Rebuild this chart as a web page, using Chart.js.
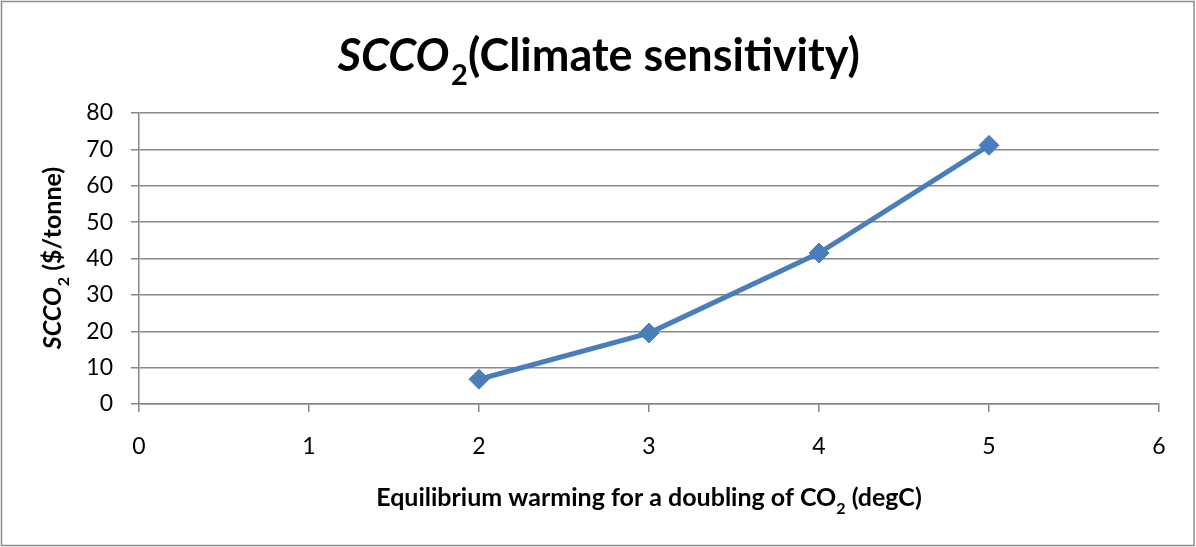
<!DOCTYPE html>
<html>
<head>
<meta charset="utf-8">
<title>SCCO2 (Climate sensitivity)</title>
<script src="https://cdn.jsdelivr.net/npm/chart.js@4/dist/chart.umd.min.js"></script>
<style>
  html, body { margin: 0; padding: 0; background: #fff; }
  #wrap { width: 1196px; height: 547px; }
</style>
</head>
<body>
<div id="wrap"><canvas id="myChart" width="1196" height="547"></canvas></div>
<script>
// data
const warming = [2, 3, 4, 5];
const scco2 = [6.8, 19.5, 41.5, 71.1];
const xTicks = [0, 1, 2, 3, 4, 5, 6];
const yTicks = [0, 10, 20, 30, 40, 50, 60, 70, 80];

// texts (parts: text, italic, subscript)
const titleParts = [['SCCO', true, false], ['2', false, true], ['(Climate sensitivity)', false, false]];
const xTitleParts = [['Equilibrium warming for a doubling of CO', false, false], ['2', false, true], [' (degC)', false, false]];
const yTitleParts = [['SCCO', true, false], ['2', false, true], [' ($/tonne)', false, false]];

const FONT = 'Lato, "Open Sans", sans-serif';
const GRID = '#878787';
const BLUE = '#4a7ebb';

function fontOf(size, italic, sub) {
  return (italic ? 'italic ' : '') + 'bold ' + Math.round(sub ? size * 0.65 : size) + 'px ' + FONT;
}

// draws bold text with italic / subscript pieces, centred at (cx, baseline)
function drawRich(ctx, parts, cx, base, size) {
  let total = 0;
  parts.forEach(p => {
    ctx.font = fontOf(size, p[1], p[2]);
    total += ctx.measureText(p[0]).width;
  });
  let x = cx - total / 2;
  ctx.textAlign = 'left';
  ctx.textBaseline = 'alphabetic';
  ctx.fillStyle = '#000';
  parts.forEach(p => {
    ctx.font = fontOf(size, p[1], p[2]);
    ctx.fillText(p[0], x, base + (p[2] ? size * 0.3 : 0));
    x += ctx.measureText(p[0]).width + (p[1] ? size * 0.04 : 0);
  });
}

const titles = {
  id: 'richTitles',
  afterDraw(chart) {
    const ctx = chart.ctx;
    const area = chart.chartArea;
    ctx.save();
    // chart title
    drawRich(ctx, titleParts, 598, 71, 45);
    // x axis title
    drawRich(ctx, xTitleParts, (area.left + area.right) / 2, 506, 25);
    // y axis title (rotated)
    ctx.translate(61, (area.top + area.bottom) / 2);
    ctx.rotate(-Math.PI / 2);
    drawRich(ctx, yTitleParts, 0, 0, 25);
    ctx.restore();
    // outer border
    ctx.save();
    ctx.strokeStyle = '#8c8c8c';
    ctx.lineWidth = 1.5;
    ctx.strokeRect(1.5, 1.5, 1192.5, 544);
    ctx.restore();
  }
};

const ctx = document.getElementById('myChart');

new Chart(ctx, {
  type: 'scatter',
  data: {
    datasets: [{
      label: 'SCCO2',
      data: warming.map((w, i) => ({ x: w, y: scco2[i] })),
      showLine: true,
      borderColor: BLUE,
      backgroundColor: BLUE,
      borderWidth: 5,
      pointStyle: 'rectRot',
      pointRadius: 10,
      pointHoverRadius: 10,
      pointBorderWidth: 1
    }]
  },
  options: {
    responsive: false,
    animation: false,
    layout: { padding: { left: 39, right: 37, top: 113, bottom: 83 } },
    plugins: {
      legend: { display: false },
      tooltip: { enabled: false }
    },
    scales: {
      x: {
        type: 'linear',
        min: xTicks[0],
        max: xTicks[xTicks.length - 1],
        afterBuildTicks: s => { s.ticks = xTicks.map(v => ({ value: v })); },
        afterFit: s => { s.height = 60; },
        grid: { drawOnChartArea: false, drawTicks: true, tickLength: 8, color: GRID, lineWidth: 1.5 },
        border: { color: GRID, width: 1.5 },
        ticks: { color: '#000', padding: 21, font: { family: FONT, size: 23 } }
      },
      y: {
        min: yTicks[0],
        max: yTicks[yTicks.length - 1],
        afterBuildTicks: s => { s.ticks = yTicks.map(v => ({ value: v })); },
        afterFit: s => { s.width = 100; },
        grid: { drawOnChartArea: true, drawTicks: true, tickLength: 8, color: GRID, lineWidth: 1.5 },
        border: { color: GRID, width: 1.5 },
        ticks: { color: '#000', padding: 18, font: { family: FONT, size: 23 } }
      }
    }
  },
  plugins: [titles]
});
</script>
</body>
</html>
